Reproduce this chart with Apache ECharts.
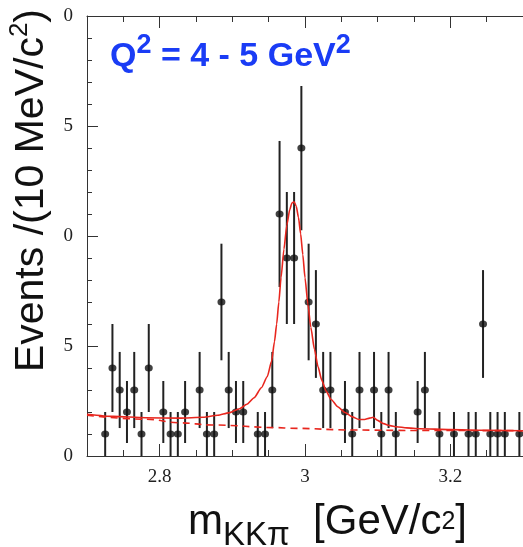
<!DOCTYPE html>
<html><head><meta charset="utf-8">
<script src="https://cdn.jsdelivr.net/npm/echarts@6/dist/echarts.min.js"></script>
<style>html,body{margin:0;padding:0;background:#fff}#c{width:523px;height:547px}</style>
</head><body><div id="c"></div>
<script>
// Measured bins (10 MeV wide), counts and their error half-lengths
const binCenters = [2.725,2.735,2.745,2.755,2.765,2.775,2.785,2.805,2.815,2.825,2.835,2.855,2.865,2.875,2.885,2.895,2.905,2.915,2.935,2.945,2.955,2.965,2.975,2.985,2.995,3.005,3.015,3.025,3.035,3.055,3.065,3.075,3.095,3.105,3.115,3.125,3.155,3.165,3.185,3.205,3.225,3.235,3.245,3.255,3.265,3.275,3.295];
const counts     = [1,4,3,2,3,1,4,2,1,1,2,3,1,1,7,3,2,2,1,1,3,11,9,9,14,7,6,3,3,2,1,3,3,1,3,1,2,3,1,1,1,1,6,1,1,1,1];
const errors     = [1,2,1.73,1.41,1.73,1,2,1.41,1,1,1.41,1.73,1,1,2.65,1.73,1.41,1.41,1,1,1.73,3.32,3,3,3.74,2.65,2.45,1.73,1.73,1.41,1,1.73,1.73,1,1.73,1,1.41,1.73,1,1,1,1,2.45,1,1,1,1];

// Fit curve (signal + background)
const fitX = [2.700,2.736,2.780,2.827,2.860,2.880,2.895,2.910,2.920,2.930,2.940,2.948,2.954,2.958,2.961,2.964,2.967,2.971,2.975,2.979,2.982,2.985,2.988,2.991,2.994,2.997,3.000,3.004,3.008,3.013,3.018,3.023,3.029,3.036,3.045,3.055,3.065,3.074,3.082,3.089,3.094,3.100,3.108,3.117,3.126,3.140,3.158,3.200,3.250,3.300];
const fitY = [1.90,1.80,1.74,1.72,1.76,1.85,1.96,2.15,2.35,2.65,3.10,3.60,4.30,5.20,6.00,7.00,8.10,9.40,10.50,11.20,11.50,11.56,11.35,10.85,10.10,9.15,8.10,6.90,5.85,4.85,4.05,3.45,2.95,2.57,2.24,1.98,1.78,1.66,1.66,1.72,1.76,1.62,1.47,1.38,1.33,1.28,1.24,1.20,1.17,1.15];
// Background component (dashed)
const bgX = [2.700,2.782,2.827,2.872,2.963,2.980,3.067,3.150,3.300];
const bgY = [1.85,1.67,1.51,1.41,1.29,1.26,1.18,1.16,1.15];

const xTickValues = [2.8, 3.0, 3.2];
const xTickLabels = ['2.8', '3', '3.2'];
const yTickLabels = ['0', '5', '0', '5', '0'];

const pts = binCenters.map((x, i) => [x, counts[i], errors[i]]);
const fitData = fitX.map((x, i) => [x, fitY[i]]);
const bgData = bgX.map((x, i) => [x, bgY[i]]);

const serif = 'Liberation Serif';
const sans = 'Liberation Sans';
const frame = '#333';

const baseX = {type: 'value', min: 2.7, max: 3.3, gridIndex: 0, splitLine: {show: false}};

const chart = echarts.init(document.getElementById('c'), null, {renderer: 'canvas'});
chart.setOption({
  animation: false,
  backgroundColor: '#fff',
  grid: {left: 87, right: -5, top: 16, bottom: 91, containLabel: false},
  xAxis: [
    Object.assign({}, baseX, {
      position: 'bottom', offset: 0, interval: 0.05,
      axisLine: {show: true, lineStyle: {color: frame, width: 1}},
      axisTick: {show: true, inside: true, length: 6, lineStyle: {color: frame}},
      axisLabel: {show: true, customValues: xTickValues, margin: 12,
        fontFamily: serif, fontSize: 19, color: '#222',
        formatter: v => { const i = xTickValues.findIndex(t => Math.abs(t - v) < 1e-6); return i >= 0 ? xTickLabels[i] : ''; }}
    }),
    Object.assign({}, baseX, {
      position: 'bottom', offset: 0,
      axisLine: {show: false},
      axisTick: {show: true, inside: true, length: 12, customValues: xTickValues, lineStyle: {color: frame}},
      axisLabel: {show: false}
    }),
    Object.assign({}, baseX, {
      position: 'top', offset: 0, interval: 0.05,
      axisLine: {show: true, lineStyle: {color: frame, width: 1}},
      axisTick: {show: true, inside: true, length: 6, lineStyle: {color: frame}},
      axisLabel: {show: false}
    }),
    Object.assign({}, baseX, {
      position: 'top', offset: 0,
      axisLine: {show: false},
      axisTick: {show: true, inside: true, length: 12, customValues: xTickValues, lineStyle: {color: frame}},
      axisLabel: {show: false}
    })
  ],
  yAxis: [{
    type: 'value', min: 0, max: 20, interval: 5, position: 'left',
    axisLine: {show: true, lineStyle: {color: frame, width: 1}},
    axisTick: {show: true, inside: true, length: 11, lineStyle: {color: frame}},
    minorTick: {show: true, splitNumber: 5, length: 5, lineStyle: {color: frame}},
    splitLine: {show: false}, minorSplitLine: {show: false},
    axisLabel: {margin: 14, fontFamily: serif, fontSize: 19, color: '#222',
      formatter: v => yTickLabels[Math.round(v / 5)] }
  }],
  series: [
    {
      type: 'custom', xAxisIndex: 0, yAxisIndex: 0, z: 3,
      data: pts,
      renderItem: (params, api) => {
        const x = api.value(0), y = api.value(1), e = api.value(2);
        const p1 = api.coord([x, y - e]);
        const p2 = api.coord([x, y + e]);
        return {type: 'line', shape: {x1: p1[0], y1: p1[1], x2: p2[0], y2: p2[1]},
          style: {stroke: '#222', lineWidth: 2}};
      },
      encode: {x: 0, y: 1}
    },
    {
      type: 'scatter', xAxisIndex: 0, yAxisIndex: 0, z: 4,
      data: pts.map(p => [p[0], p[1]]),
      symbol: 'circle', symbolSize: [8, 7],
      itemStyle: {color: '#111'}
    },
    {
      type: 'line', xAxisIndex: 0, yAxisIndex: 0, z: 5,
      data: bgData, showSymbol: false, smooth: 0.4, smoothMonotone: 'x',
      lineStyle: {color: '#e8261e', width: 1.6, type: [7, 5]}
    },
    {
      type: 'line', xAxisIndex: 0, yAxisIndex: 0, z: 6,
      data: fitData, showSymbol: false, smooth: 0.2, smoothMonotone: 'x',
      lineStyle: {color: '#e8261e', width: 1.6}
    }
  ],
  graphic: [
    {type: 'rect', z: 100, shape: {x: 96, y: 29, width: 272, height: 57}, style: {fill: '#fff'}},
    {type: 'text', z: 101, x: 110, y: 57,
      style: {
        text: '{a|Q}{s|2}{a| = 4 - 5 GeV}{s|2}',
        align: 'left', verticalAlign: 'middle',
        rich: {
          a: {fontFamily: sans, fontWeight: 'bold', fontSize: 34, lineHeight: 50, fill: '#1a3cf5'},
          s: {fontFamily: sans, fontWeight: 'bold', fontSize: 27, lineHeight: 22, verticalAlign: 'top', fill: '#1a3cf5'}
        }
      }},
    {type: 'text', z: 101, x: 467, y: 522,
      style: {
        text: '{a|m}{b|KKπ}{a|  [GeV/c}{s|2}{a|]}',
        align: 'right', verticalAlign: 'middle',
        rich: {
          a: {fontFamily: sans, fontSize: 42, lineHeight: 60, fill: '#111'},
          b: {fontFamily: sans, fontSize: 33, lineHeight: 33, verticalAlign: 'bottom', fill: '#111'},
          s: {fontFamily: sans, fontSize: 25, lineHeight: 60, fill: '#111'}
        }
      }},
    {type: 'text', z: 101, x: 32, y: 9, rotation: Math.PI / 2,
      style: {
        text: '{a|Events /(10 MeV/c}{s|2}{a|)}',
        align: 'right', verticalAlign: 'middle',
        rich: {
          a: {fontFamily: sans, fontSize: 41, lineHeight: 50, fill: '#111'},
          s: {fontFamily: sans, fontSize: 26, lineHeight: 30, verticalAlign: 'top', fill: '#111'}
        }
      }}
  ]
});
</script>
</body></html>
